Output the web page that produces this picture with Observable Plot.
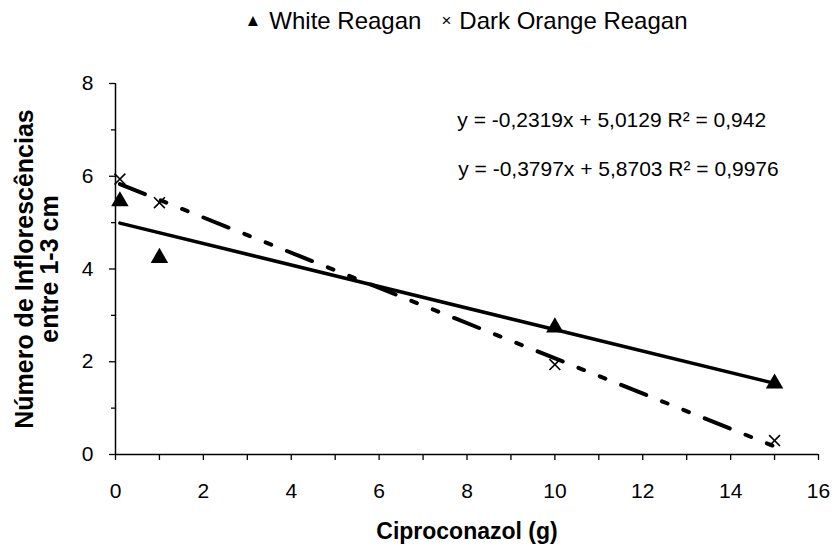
<!DOCTYPE html>
<html><head><meta charset="utf-8">
<script src="https://cdn.jsdelivr.net/npm/d3@7"></script>
<script src="https://cdn.jsdelivr.net/npm/@observablehq/plot@0.6"></script>
<style>
body{margin:0;background:#fff;font-family:"Liberation Sans",Arial,sans-serif;}
#legend{height:42px;box-sizing:border-box;padding-left:97px;display:flex;align-items:center;justify-content:center;font-size:24px;color:#000;}
#legend span.sym{margin-right:8px;font-size:17px;}
#legend span.item{margin:0 10px;display:flex;align-items:center;}
</style></head><body>
<div id="legend"></div><div id="chart"></div>
<script>
const doses = [0.1, 1, 10, 15];
const whiteReagan = [5.46, 4.24, 2.74, 1.53];
const darkOrangeReagan = [5.94, 5.43, 1.94, 0.30];
const seriesNames = ["White Reagan", "Dark Orange Reagan"];
const seriesSymbols = ["▲", "×"];
const slopes = [-0.2319, -0.3797];
const intercepts = [5.0129, 5.8703];
const equations = ["y = -0,2319x + 5,0129 R² = 0,942", "y = -0,3797x + 5,8703 R² = 0,9976"];
const xTicks = [0, 2, 4, 6, 8, 10, 12, 14, 16];
const xMinor = [1, 3, 5, 7, 9, 11, 13, 15];
const yTicks = [0, 2, 4, 6, 8];
const yMinor = [1, 3, 5, 7];
const xLabel = "Ciproconazol (g)";
const yLabel = "Número de Inflorescências\nentre 1-3 cm";

const legend = document.getElementById("legend");
legend.innerHTML = seriesNames.map((n, i) => `<span class="item"><span class="sym">${seriesSymbols[i]}</span>${n}</span>`).join("");

const white = doses.map((x, i) => ({x, y: whiteReagan[i]}));
const dark = doses.map((x, i) => ({x, y: darkOrangeReagan[i]}));
const xr = [doses[0], doses[doses.length - 1]];
const trend = (k) => xr.map(x => ({x, y: slopes[k] * x + intercepts[k]}));
const eqs = [
  {x: 7.78, y: 7.2, t: equations[0]},
  {x: 7.8, y: 6.16, t: equations[1]}
];

const chart = Plot.plot({
  width: 835, height: 510,
  marginLeft: 115, marginRight: 17, marginTop: 41, marginBottom: 98,
  style: {fontFamily: "'Liberation Sans', Arial, sans-serif", fontSize: "21px", color: "#000", background: "#fff"},
  x: {domain: [0, 16]},
  y: {domain: [0, 8]},
  marks: [
    Plot.axisX({ticks: xTicks, tickSize: 6, tickPadding: 23, fontSize: 21, label: null, stroke: "#000", strokeWidth: 1.3, strokeOpacity: 1}),
    Plot.axisX({ticks: xMinor, tickSize: 6, text: null, label: null, stroke: "#000", strokeWidth: 1.3, strokeOpacity: 1}),
    Plot.axisY({ticks: yTicks, tickSize: 6, tickPadding: 16, fontSize: 21, label: null, stroke: "#000", strokeWidth: 1.3, strokeOpacity: 1}),
    Plot.axisY({ticks: yMinor, tickSize: 4, text: null, label: null, stroke: "#000", strokeWidth: 1.3, strokeOpacity: 1}),
    Plot.ruleY([0], {stroke: "#000", strokeWidth: 1.5}),
    Plot.ruleX([0], {stroke: "#000", strokeWidth: 1.5}),
    Plot.line(trend(0), {x: "x", y: "y", stroke: "#000", strokeWidth: 3.5}),
    Plot.line(trend(1), {x: "x", y: "y", stroke: "#000", strokeWidth: 4, strokeDasharray: "27,17,6,17,6,17"}),
    Plot.dot(white, {x: "x", y: "y", symbol: "triangle", r: 6.5, fill: "#000", stroke: "none"}),
    Plot.dot(dark, {x: "x", y: "y", symbol: "times", r: 5, stroke: "#000", strokeWidth: 1.6}),
    Plot.text(eqs, {x: "x", y: "y", text: "t", textAnchor: "start", fontSize: 21, fill: "#000"}),
    Plot.text([yLabel], {frameAnchor: "left", textAnchor: "middle", dx: -78, rotate: -90, fontSize: 25, fontWeight: "bold", lineHeight: 0.98, fill: "#000"}),
    Plot.text([xLabel], {frameAnchor: "bottom", dy: 84, fontSize: 23, fontWeight: "bold", fill: "#000"})
  ]
});
document.getElementById("chart").appendChild(chart);
</script>
</body></html>
